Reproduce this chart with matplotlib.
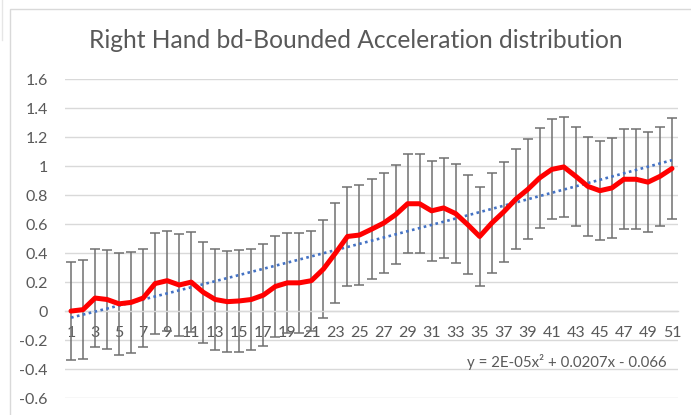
import matplotlib
matplotlib.use('Agg')
import matplotlib.pyplot as plt
import numpy as np
from matplotlib.patches import Rectangle
from matplotlib.lines import Line2D

# mean acceleration per bin and half-width of its error bar
bins = list(range(1, 52))
mean_acc = [0.00, 0.01, 0.09, 0.08, 0.05, 0.06, 0.09, 0.19, 0.21, 0.18,
            0.20, 0.13, 0.08, 0.065, 0.07, 0.08, 0.11, 0.17, 0.195, 0.195,
            0.21, 0.29, 0.40, 0.515, 0.525, 0.565, 0.607, 0.665, 0.741, 0.741,
            0.692, 0.712, 0.673, 0.597, 0.515, 0.607, 0.685, 0.772, 0.84, 0.92,
            0.978, 0.995, 0.93, 0.861, 0.831, 0.85, 0.91, 0.91, 0.89, 0.93,
            0.984]
err_acc = [0.34, 0.34, 0.34, 0.34, 0.35, 0.35, 0.34, 0.35, 0.345, 0.35,
           0.345, 0.35, 0.35, 0.35, 0.35, 0.35, 0.35, 0.35, 0.345, 0.345,
           0.345, 0.34, 0.344, 0.343, 0.345, 0.345, 0.343, 0.343, 0.343, 0.343,
           0.345, 0.345, 0.343, 0.343, 0.343, 0.343, 0.345, 0.345, 0.345, 0.345,
           0.345, 0.348, 0.343, 0.343, 0.343, 0.343, 0.345, 0.345, 0.345, 0.343,
           0.349]

# polynomial trendline (order 2) as reported on the chart
trend_coef = [2e-05, 0.0207, -0.066]
trend_label = 'y = 2E-05x\u00b2 + 0.0207x - 0.066'

title = 'Right Hand bd-Bounded Acceleration distribution'
y_ticks = [-0.6, -0.4, -0.2, 0, 0.2, 0.4, 0.6, 0.8, 1.0, 1.2, 1.4, 1.6]
y_tick_labels = ['-0.6', '-0.4', '-0.2', '0', '0.2', '0.4', '0.6', '0.8', '1', '1.2', '1.4', '1.6']
x_ticks = bins[::2]

W, H = 691, 415
plt.rcParams['font.family'] = ['Lato', 'DejaVu Sans']
text_col = '#595959'
grid_col = '#d9d9d9'

fig = plt.figure(figsize=(W / 100, H / 100), dpi=100)

# chart area border
fig.add_artist(Rectangle((10 / W, -0.1), 1.2, 1 - 9 / H + 0.1, transform=fig.transFigure,
                         fill=False, edgecolor=grid_col, linewidth=1.0))
fig.add_artist(Line2D([2 / W, 2 / W], [1, 1 - 40 / H], transform=fig.transFigure,
                      color='#e6e6e6', linewidth=1.0))

ax = fig.add_axes([65 / W, (H - 398) / H, (678 - 65) / W, (398 - 79.3) / H])
ax.set_xlim(0.5, 51.5)
ax.set_ylim(-0.6, 1.6)

for s in ['top', 'right', 'left']:
    ax.spines[s].set_visible(False)
ax.spines['bottom'].set_position(('data', 0))
ax.spines['bottom'].set_color(grid_col)
ax.spines['bottom'].set_linewidth(1.0)

ax.set_yticks(y_ticks)
ax.set_yticklabels(y_tick_labels)
ax.set_xticks(x_ticks)
ax.set_xticklabels([str(v) for v in x_ticks])
ax.tick_params(axis='y', length=0, pad=12.5, labelsize=11.5, labelcolor=text_col)
ax.tick_params(axis='x', length=0, pad=10.5, labelsize=11.5, labelcolor=text_col)
ax.grid(axis='y', color=grid_col, linewidth=1.0)
ax.set_axisbelow(True)

ax.errorbar(bins, mean_acc, yerr=err_acc, fmt='none', ecolor='#707070',
            elinewidth=1.1, capsize=3.5, capthick=1.1, zorder=2)

xs = np.linspace(1, 51, 200)
ax.plot(xs, np.polyval(trend_coef, xs), color='#4472C4', linewidth=1.9,
        linestyle=(0, (1, 1.3)), zorder=3)

ax.plot(bins, mean_acc, color='#ff0000', linewidth=3.6, solid_joinstyle='round',
        solid_capstyle='round', zorder=4)

fig.text(356 / W, 1 - 48 / H, title, ha='center', va='baseline', fontsize=17.7,
         color=text_col)
fig.text(567 / W, 1 - 362 / H, trend_label, ha='center', va='center', fontsize=10.8,
         color=text_col)

fig.savefig('out.png', dpi=100)
